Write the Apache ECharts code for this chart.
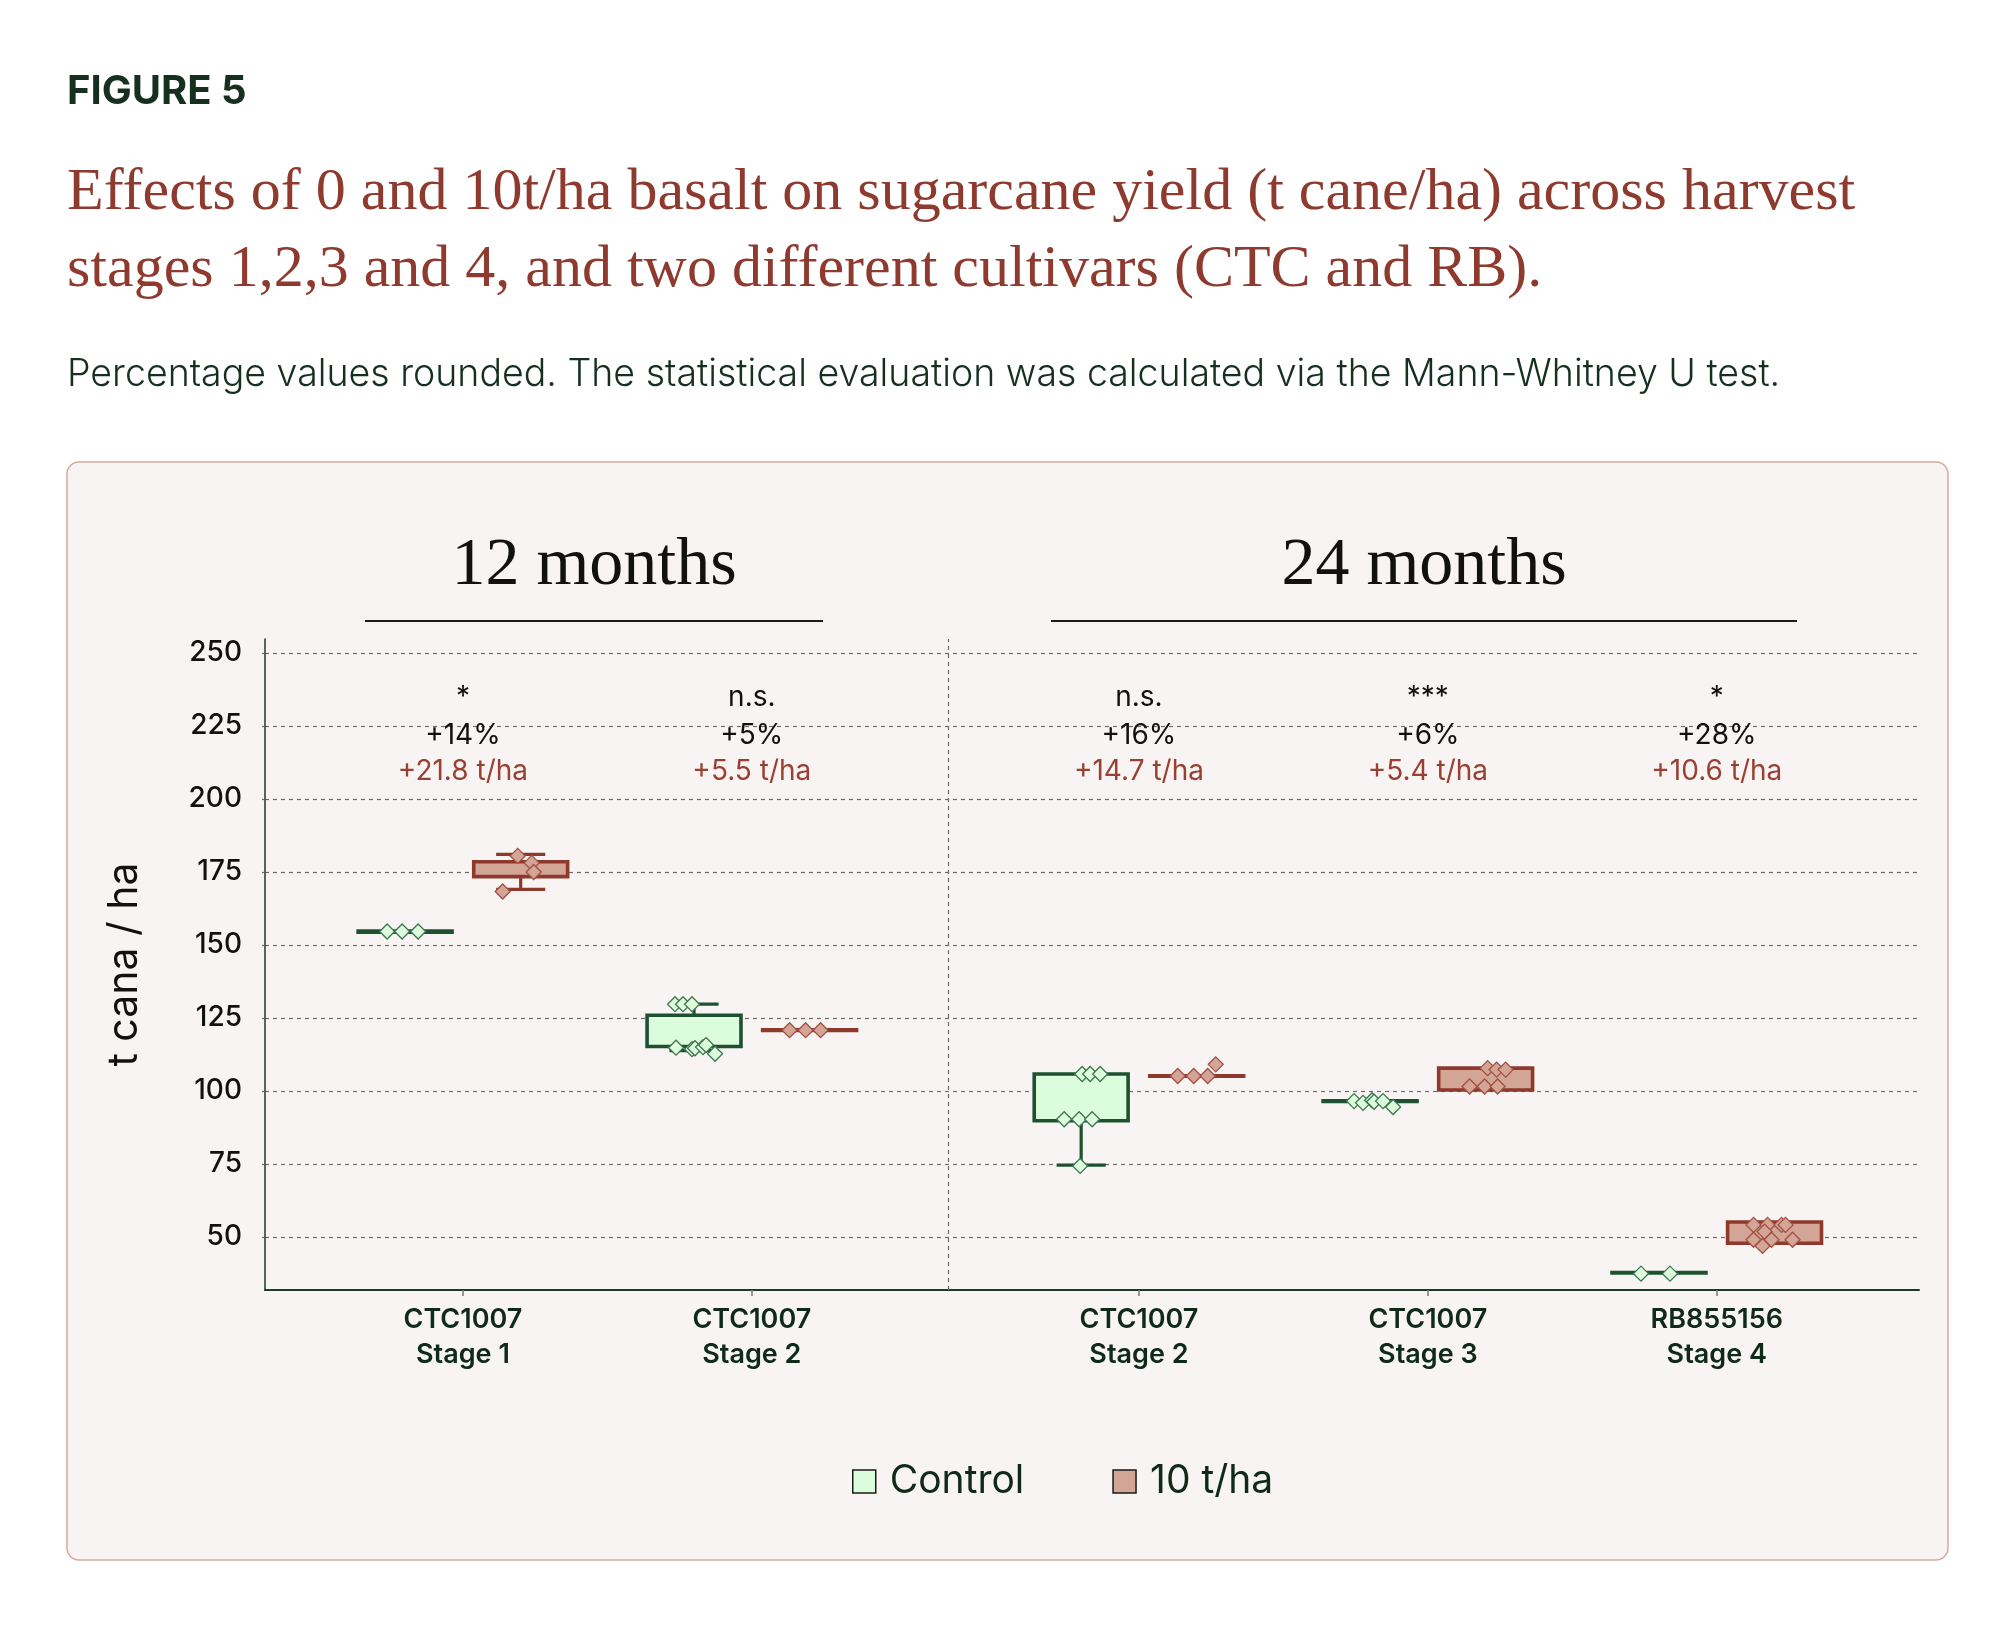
<!DOCTYPE html>
<html>
<head>
<meta charset="utf-8" />
<script src="https://cdn.jsdelivr.net/npm/echarts@6.0.0/dist/echarts.min.js"></script>
<style>
  html, body { margin: 0; padding: 0; background: #ffffff; }
  #main { width: 2016px; height: 1628px; }
</style>
</head>
<body>
<div id="main"></div>
<script type="text/javascript">
// --- data ---
var catPos = [0, 1, 2.34, 3.34, 4.34];
var catLabels = ['CTC1007\nStage 1', 'CTC1007\nStage 2', 'CTC1007\nStage 2', 'CTC1007\nStage 3', 'RB855156\nStage 4'];
var sigLabels = ['*', 'n.s.', 'n.s.', '***', '*'];
var pctLabels = ['+14%', '+5%', '+16%', '+6%', '+28%'];
var diffLabels = ['+21.8 t/ha', '+5.5 t/ha', '+14.7 t/ha', '+5.4 t/ha', '+10.6 t/ha'];
var yTicks = [50, 75, 100, 125, 150, 175, 200, 225, 250];

// [whisker low, Q1, Q3, whisker high]
var controlBox = [
    [154.4, 154.4, 154.8, 154.8],
    [113.8, 115.2, 125.9, 129.7],
    [74.6, 89.8, 105.8, 105.8],
    [96.4, 96.4, 96.6, 96.6],
    [37.6, 37.6, 37.8, 37.8]
];
var treatBox = [
    [169.0, 173.4, 178.5, 181.0],
    [120.7, 120.7, 120.9, 120.9],
    [105.0, 105.0, 105.2, 105.2],
    [100.3, 100.3, 107.8, 107.8],
    [47.8, 47.8, 55.1, 55.1]
];

// individual plots
var controlPts = [
    [154.6, 154.6, 154.6],
    [129.7, 129.7, 129.7, 114.8, 114.3, 114.6, 115.0, 115.7, 112.7],
    [105.8, 105.8, 105.8, 90.3, 90.3, 90.3, 74.3],
    [96.5, 95.9, 96.8, 96.3, 96.5, 94.5],
    [37.4, 37.4]
];
var treatPts = [
    [180.5, 178.1, 175.0, 168.3],
    [120.8, 120.8, 120.8],
    [105.1, 105.1, 105.1, 109.1],
    [107.8, 107.3, 107.3, 101.5, 101.5, 101.5],
    [54.1, 54.1, 54.1, 54.1, 51.8, 49.0, 49.0, 49.0, 46.9]
];

// horizontal jitter of the plotted points (px), as seen in the figure
var controlJitter = [
    [-18, -3, 13],
    [-19, -11, -2, -18, -2, 1, 9, 12, 21],
    [1, 9, 19, -17, -2, 11, -1],
    [-16, -7, 2, 4, 13, 23],
    [-18, 11]
];
var treatJitter = [
    [-3, 11, 13, -18],
    [-20, -4, 11],
    [-19, -3, 11, 19],
    [2, 11, 20, -16, -1, 12],
    [-21, -7, 7, 11, -10, -21, -3, 18, -12]
];

var controlFill = '#dcfddc', controlLine = '#1d5130', controlPtLine = '#3f7450';
var treatFill = '#d3a597', treatLine = '#8e392c', treatPtLine = '#a24f41';
var inkGreen = '#0f2a1a';

var GROUP_OFF = 0.2, BOX_W = 0.325, CAP_W = 0.17, SEP = 1.678;

function boxRenderer(fill, stroke) {
    return function (params, api) {
        var pos = api.value(0);
        var lo = api.coord([pos, api.value(1)]);
        var q1 = api.coord([pos, api.value(2)]);
        var q3 = api.coord([pos, api.value(3)]);
        var hi = api.coord([pos, api.value(4)]);
        var cx = q1[0];
        var half = api.size([BOX_W, 0])[0] / 2;
        var cap = api.size([CAP_W, 0])[0] / 2;
        var ls = { stroke: stroke, lineWidth: 3.2 };
        var kids = [];
        if (hi[1] < q3[1] - 0.5) {
            kids.push({ type: 'line', shape: { x1: cx, y1: q3[1], x2: cx, y2: hi[1] }, style: ls });
            kids.push({ type: 'line', shape: { x1: cx - cap, y1: hi[1], x2: cx + cap, y2: hi[1] }, style: ls });
        }
        if (lo[1] > q1[1] + 0.5) {
            kids.push({ type: 'line', shape: { x1: cx, y1: q1[1], x2: cx, y2: lo[1] }, style: ls });
            kids.push({ type: 'line', shape: { x1: cx - cap, y1: lo[1], x2: cx + cap, y2: lo[1] }, style: ls });
        }
        kids.push({
            type: 'rect',
            shape: { x: cx - half, y: q3[1], width: half * 2, height: Math.max(q1[1] - q3[1], 0.5) },
            style: { fill: fill, stroke: stroke, lineWidth: 3.6 }
        });
        return { type: 'group', children: kids };
    };
}

function pointRenderer(fill, stroke) {
    return function (params, api) {
        var p = api.coord([api.value(0), api.value(1)]);
        var x = p[0] + api.value(2), y = p[1], r = 7.5;
        return {
            type: 'polygon',
            shape: { points: [[x, y - r], [x + r, y], [x, y + r], [x - r, y]] },
            style: { fill: fill, stroke: stroke, lineWidth: 1.3 }
        };
    };
}

function boxData(rows, off) {
    return rows.map(function (r, i) { return [catPos[i] + off].concat(r); });
}
function ptData(vals, jit, off) {
    var out = [];
    vals.forEach(function (arr, i) {
        arr.forEach(function (v, j) { out.push([catPos[i] + off, v, jit[i][j]]); });
    });
    return out;
}

var myChart = echarts.init(document.getElementById('main'));

myChart.setOption({
    backgroundColor: '#ffffff',
    animation: false,
    graphic: [
        { type: 'rect', z: -10, shape: { x: 67, y: 462, width: 1881, height: 1098, r: 12 },
          style: { fill: '#f8f4f3', stroke: '#d3ab9f', lineWidth: 1.5 } },
        { type: 'text', x: 67, y: 92,
          style: { text: 'FIGURE 5', fontFamily: 'Inter', fontWeight: 700, fontSize: 40, fill: '#15301f', verticalAlign: 'middle' } },
        { type: 'text', x: 67, y: 155,
          style: { text: 'Effects of 0 and 10t/ha basalt on sugarcane yield (t cane/ha) across harvest\nstages 1,2,3 and 4, and two different cultivars (CTC and RB).',
                   fontFamily: 'Liberation Serif', fontSize: 60, lineHeight: 77, fill: '#8f3a2e' } },
        { type: 'text', x: 67, y: 375,
          style: { text: 'Percentage values rounded. The statistical evaluation was calculated via the Mann-Whitney U test.',
                   fontFamily: 'Inter', fontWeight: 300, fontSize: 37.5, fill: '#15301f', verticalAlign: 'middle' } },
        { type: 'text', x: 594, y: 566,
          style: { text: '12 months', fontFamily: 'Liberation Serif', fontSize: 68, fill: '#111111', align: 'center', verticalAlign: 'middle' } },
        { type: 'text', x: 1424, y: 566,
          style: { text: '24 months', fontFamily: 'Liberation Serif', fontSize: 68, fill: '#111111', align: 'center', verticalAlign: 'middle' } },
        { type: 'line', shape: { x1: 365, y1: 621, x2: 823, y2: 621 }, style: { stroke: '#1b1b1b', lineWidth: 2 } },
        { type: 'line', shape: { x1: 1051, y1: 621, x2: 1797, y2: 621 }, style: { stroke: '#1b1b1b', lineWidth: 2 } }
    ],
    legend: {
        left: 847, top: 1457,
        icon: 'rect', itemWidth: 23, itemHeight: 23, itemGap: 88,
        textStyle: { fontFamily: 'Inter', fontSize: 39, color: inkGreen, padding: [0, 0, 0, 9] },
        data: [
            { name: 'Control', itemStyle: { color: controlFill, borderColor: '#1a1a1a', borderWidth: 1.5 } },
            { name: '10 t/ha', itemStyle: { color: treatFill, borderColor: '#1a1a1a', borderWidth: 1.5 } }
        ]
    },
    grid: { left: 265, right: 97, top: 639, bottom: 338 },
    xAxis: {
        type: 'value', min: -0.685, max: 5.04,
        splitLine: { show: false },
        axisLine: { onZero: false, lineStyle: { color: '#1d3a29', width: 2 } },
        axisTick: { show: true, customValues: catPos, length: 6, lineStyle: { color: '#777777', width: 1.5 } },
        axisLabel: {
            customValues: catPos, margin: 12,
            fontFamily: 'Inter', fontSize: 27, fontWeight: 600, lineHeight: 35, color: inkGreen,
            formatter: function (v) {
                for (var i = 0; i < catPos.length; i++) {
                    if (Math.abs(catPos[i] - v) < 1e-6) return catLabels[i];
                }
                return '';
            }
        }
    },
    yAxis: {
        type: 'value', min: 31.8, max: 254.8,
        name: 't cana / ha', nameLocation: 'middle', nameGap: 120,
        nameTextStyle: { fontFamily: 'Inter', fontSize: 41, color: '#111111' },
        axisLine: { show: true, onZero: false, lineStyle: { color: '#1d3a29', width: 1.5 } },
        axisTick: { show: true, customValues: yTicks, length: 6, lineStyle: { color: '#6d6d6d', type: [3, 3], width: 1.2 } },
        axisLabel: { customValues: yTicks, margin: 23, fontFamily: 'Inter', fontSize: 28, fontWeight: 500, color: '#111111' },
        splitLine: { show: true, lineStyle: { color: '#6d6d6d', type: [4, 4], width: 1.2 } }
    },
    series: [
        {
            name: 'Control', type: 'custom', z: 3,
            itemStyle: { color: controlFill, borderColor: controlLine },
            renderItem: boxRenderer(controlFill, controlLine),
            data: boxData(controlBox, -GROUP_OFF),
            markLine: {
                silent: true, symbol: 'none', label: { show: false },
                lineStyle: { color: '#6d6d6d', type: [4, 4], width: 1.2 },
                data: [{ xAxis: SEP }]
            }
        },
        {
            name: '10 t/ha', type: 'custom', z: 3,
            itemStyle: { color: treatFill, borderColor: treatLine },
            renderItem: boxRenderer(treatFill, treatLine),
            data: boxData(treatBox, GROUP_OFF)
        },
        {
            name: 'Control', type: 'custom', z: 4,
            renderItem: pointRenderer(controlFill, controlPtLine),
            data: ptData(controlPts, controlJitter, -GROUP_OFF)
        },
        {
            name: '10 t/ha', type: 'custom', z: 4,
            renderItem: pointRenderer(treatFill, treatPtLine),
            data: ptData(treatPts, treatJitter, GROUP_OFF)
        },
        {
            name: 'notes', type: 'custom', z: 5, silent: true,
            renderItem: function (params, api) {
                var i = params.dataIndex;
                var x = api.coord([api.value(0), 100])[0];
                var base = { fontFamily: 'Inter', fontSize: 28, align: 'center', verticalAlign: 'middle' };
                return {
                    type: 'group',
                    children: [
                        { type: 'text', style: Object.assign({ text: sigLabels[i], x: x, y: 698, fill: '#111111' }, base) },
                        { type: 'text', style: Object.assign({ text: pctLabels[i], x: x, y: 736, fill: '#111111' }, base) },
                        { type: 'text', style: Object.assign({ text: diffLabels[i], x: x, y: 772, fill: '#9a4032' }, base) }
                    ]
                };
            },
            data: catPos.map(function (p) { return [p, 100]; })
        }
    ]
});
</script>
</body>
</html>
